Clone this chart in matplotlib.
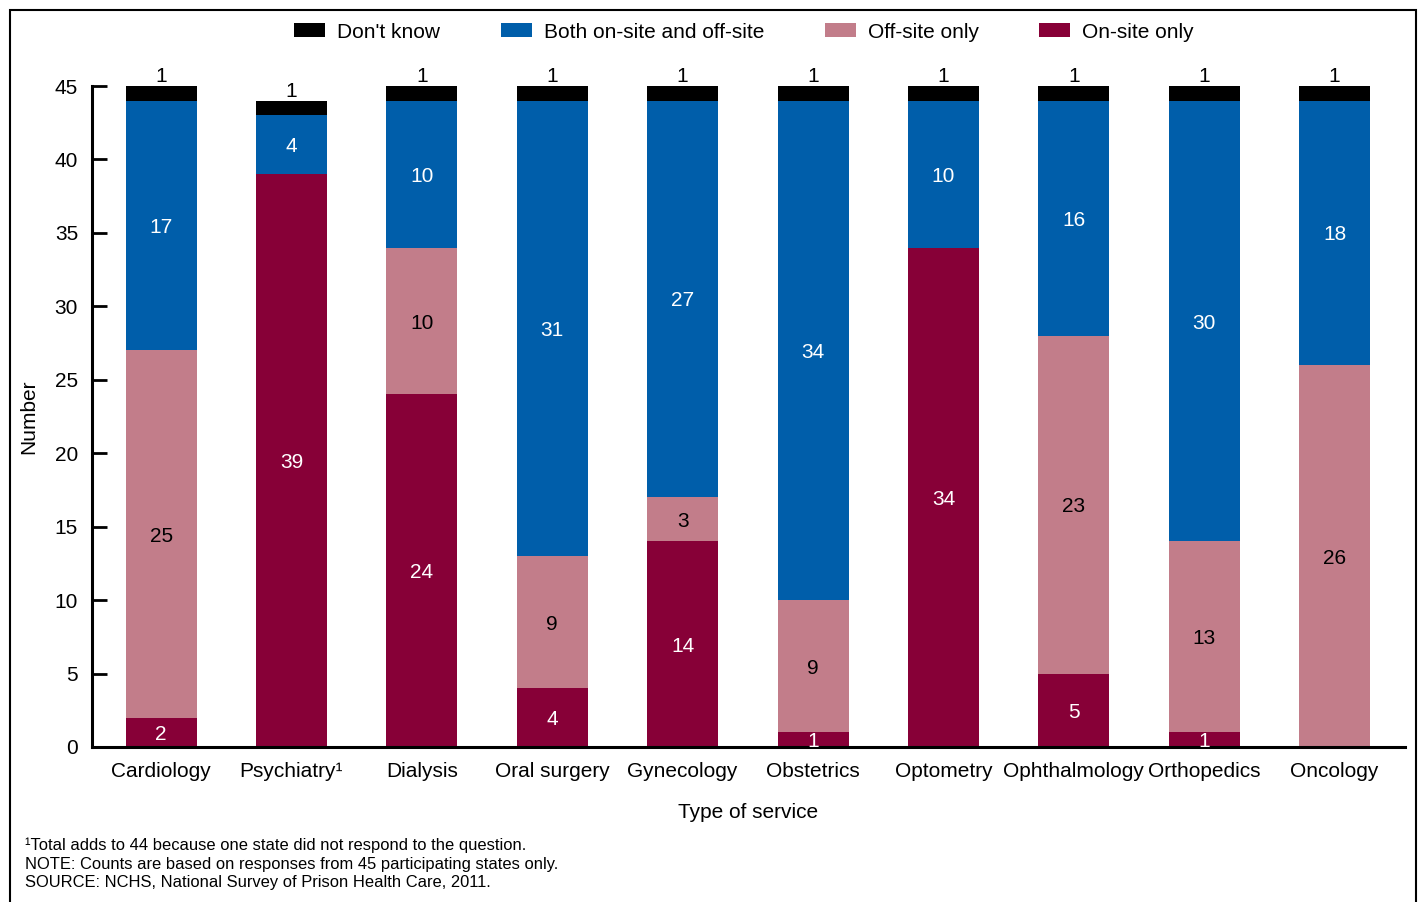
import matplotlib.pyplot as plt
import numpy as np
from matplotlib.patches import Rectangle

plt.rcParams['font.family'] = ['Liberation Sans', 'DejaVu Sans']

# data
services = ['Cardiology', 'Psychiatry\u00b9', 'Dialysis', 'Oral surgery', 'Gynecology',
            'Obstetrics', 'Optometry', 'Ophthalmology', 'Orthopedics', 'Oncology']
on_site = [2, 39, 24, 4, 14, 1, 34, 5, 1, 0]
off_site = [25, 0, 10, 9, 3, 9, 0, 23, 13, 26]
both = [17, 4, 10, 31, 27, 34, 10, 16, 30, 18]
dont_know = [1, 1, 1, 1, 1, 1, 1, 1, 1, 1]

series = [
    ('On-site only', on_site, '#870037', 'white'),
    ('Off-site only', off_site, '#C27D8A', 'black'),
    ('Both on-site and off-site', both, '#005EAA', 'white'),
    ("Don't know", dont_know, '#000000', None),
]

fig = plt.figure(figsize=(14.18, 9.02), dpi=100)
ax = fig.add_axes([92/1418, 1-747/902, (1405-92)/1418, (747-86)/902])

x = np.arange(len(services))
bottom = np.zeros(len(services))
handles = {}
for name, vals, color, tcol in series:
    vals = np.array(vals, dtype=float)
    b = ax.bar(x, vals, 0.545, bottom=bottom, color=color, edgecolor='none', clip_on=False)
    handles[name] = b
    for i, v in enumerate(vals):
        if v <= 0:
            continue
        if tcol is None:
            ax.text(x[i], bottom[i] + v + 0.28, f'{int(v)}', ha='center', va='baseline',
                    fontsize=15, color='black')
        else:
            ax.text(x[i], bottom[i] + v / 2, f'{int(v)}', ha='center', va='center_baseline',
                    fontsize=15, color=tcol)
    bottom += vals

ax.set_xlim(-0.53, 9.54)
ax.set_ylim(0, 45)
ax.set_yticks(np.arange(0, 46, 5))
ax.set_xticks(x)
ax.set_xticklabels(services, fontsize=15)
ax.tick_params(axis='y', direction='in', length=11, width=2, pad=10, labelsize=15)
ax.tick_params(axis='x', length=0, pad=11)
for s in ['top', 'right']:
    ax.spines[s].set_visible(False)
for s in ['left', 'bottom']:
    ax.spines[s].set_linewidth(2.2)
ax.set_ylabel('Number', fontsize=15, labelpad=12)
ax.set_xlabel('Type of service', fontsize=15, labelpad=16)

order = ["Don't know", 'Both on-site and off-site', 'Off-site only', 'On-site only']
fig.legend([handles[n] for n in order], order, loc='center', bbox_to_anchor=(744/1418, 1-32/902),
           ncol=4, frameon=False, fontsize=15, handlelength=1.5, handleheight=0.67,
           handletextpad=0.57, columnspacing=2.9)

notes = ['\u00b9Total adds to 44 because one state did not respond to the question.',
         'NOTE: Counts are based on responses from 45 participating states only.',
         'SOURCE: NCHS, National Survey of Prison Health Care, 2011.']
for k, t in enumerate(notes):
    fig.text(25/1418, 1-(845+k*19)/902, t, fontsize=11.9, va='center', ha='left')

fig.patches.append(Rectangle((10/1418, -0.05), (1416-10)/1418, 1.05-10/902,
                             transform=fig.transFigure, fill=False, edgecolor='black',
                             linewidth=1.5))

fig.savefig('out.png', dpi=100)
